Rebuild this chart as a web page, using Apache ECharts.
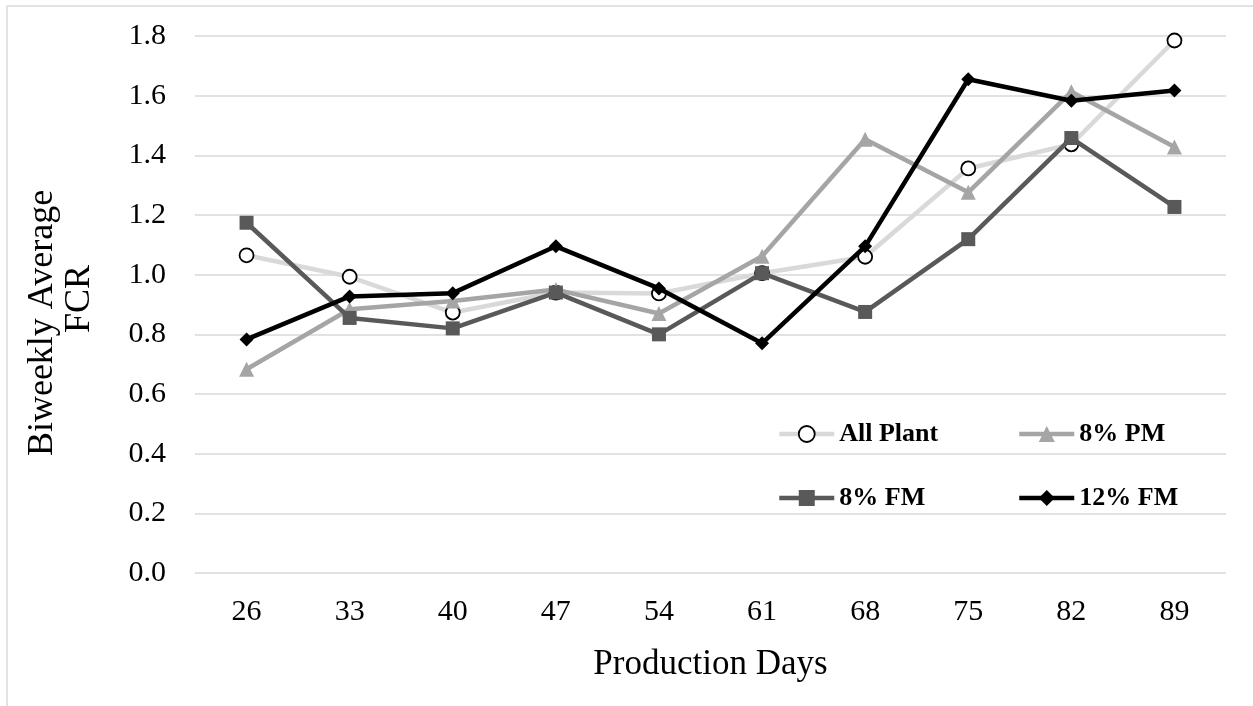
<!DOCTYPE html>
<html>
<head>
<meta charset="utf-8">
<script src="https://cdn.jsdelivr.net/npm/echarts@6/dist/echarts.min.js"></script>
<style>
html,body{margin:0;padding:0;background:#fff;}
#chart{width:1253px;height:706px;}
</style>
</head>
<body>
<div id="chart"></div>
<script>
const days = ['26','33','40','47','54','61','68','75','82','89'];
const allPlant = [1.065, 0.993, 0.873, 0.94, 0.937, 1.005, 1.06, 1.356, 1.437, 1.785];
const pm8 = [0.683, 0.884, 0.912, 0.95, 0.87, 1.062, 1.454, 1.276, 1.613, 1.428];
const fm8 = [1.174, 0.855, 0.82, 0.94, 0.80, 1.005, 0.875, 1.119, 1.458, 1.227];
const fm12 = [0.783, 0.927, 0.938, 1.095, 0.954, 0.77, 1.095, 1.655, 1.583, 1.617];
const seriesNames = ['All Plant', '8% PM', '8% FM', '12% FM'];

const FONT = "'Liberation Serif','Times New Roman',serif";
const chart = echarts.init(document.getElementById('chart'));
const legendCommon = {
  itemWidth: 55, itemHeight: 20,
  textStyle: {fontFamily: FONT, fontSize: 26, fontWeight: 'bold', color: '#000', lineHeight: 26},
  lineStyle: {width: 4.5},
  selectedMode: false
};
chart.setOption({
  animation: false,
  backgroundColor: '#fff',
  graphic: [
    {type: 'line', shape: {x1: 7, y1: 6, x2: 1253, y2: 6}, style: {stroke: '#d9d9d9', lineWidth: 1.5}, silent: true},
    {type: 'line', shape: {x1: 7, y1: 6, x2: 7, y2: 706}, style: {stroke: '#d9d9d9', lineWidth: 1.5}, silent: true}
  ],
  grid: {left: 195, right: 27, top: 36, bottom: 133, containLabel: false},
  legend: [
    Object.assign({data: [seriesNames[0]], left: 772, top: 416}, legendCommon, {itemStyle: {borderWidth: 1.8, borderColor: '#000', color: '#fff'}}),
    Object.assign({data: [seriesNames[1]], left: 1012, top: 416}, legendCommon),
    Object.assign({data: [seriesNames[2]], left: 772, top: 480}, legendCommon),
    Object.assign({data: [seriesNames[3]], left: 1012, top: 480}, legendCommon)
  ],
  xAxis: {
    type: 'category', data: days, boundaryGap: true,
    axisLine: {show: false}, axisTick: {show: false},
    axisLabel: {fontFamily: FONT, fontSize: 30, color: '#000', margin: 24},
    name: 'Production Days', nameLocation: 'middle', nameGap: 74,
    nameTextStyle: {fontFamily: FONT, fontSize: 35, color: '#000', lineHeight: 35}
  },
  yAxis: {
    type: 'value', min: 0, max: 1.8, interval: 0.2,
    axisLine: {show: false}, axisTick: {show: false},
    splitLine: {lineStyle: {color: '#d9d9d9', width: 1.5}},
    axisLabel: {fontFamily: FONT, fontSize: 30, color: '#000', margin: 29, formatter: v => v.toFixed(1)},
    name: '{a|Biweekly Average}\n{b|FCR}', nameLocation: 'middle', nameRotate: 90, nameGap: 97,
    nameTextStyle: {
      fontFamily: FONT, fontSize: 36, color: '#000', lineHeight: 37,
      rich: {
        a: {fontFamily: FONT, fontSize: 36, color: '#000', lineHeight: 37, padding: [0, 37, 0, 0]},
        b: {fontFamily: FONT, fontSize: 36, color: '#000', lineHeight: 37, padding: [0, 0, 0, 11]}
      }
    }
  },
  series: [
    {name: seriesNames[0], type: 'line', data: allPlant, symbol: 'circle', symbolSize: 14,
     lineStyle: {color: '#d9d9d9', width: 4.5}, itemStyle: {color: '#fff', borderColor: '#000', borderWidth: 1.8}, z: 2},
    {name: seriesNames[1], type: 'line', data: pm8, symbol: 'triangle', symbolSize: 15,
     lineStyle: {color: '#a5a5a5', width: 4.5}, itemStyle: {color: '#a5a5a5'}, z: 3},
    {name: seriesNames[2], type: 'line', data: fm8, symbol: 'rect', symbolSize: 14,
     lineStyle: {color: '#595959', width: 4.5}, itemStyle: {color: '#595959'}, z: 4},
    {name: seriesNames[3], type: 'line', data: fm12, symbol: 'diamond', symbolSize: 14,
     lineStyle: {color: '#000', width: 4.5}, itemStyle: {color: '#000'}, z: 5}
  ]
});
</script>
</body>
</html>
